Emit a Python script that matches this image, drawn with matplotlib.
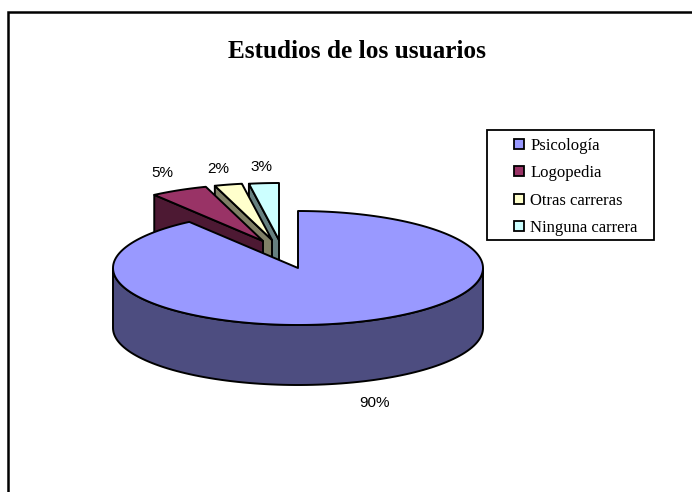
# -*- coding: utf-8 -*-
import numpy as np
import matplotlib
matplotlib.use("Agg")
import matplotlib.pyplot as plt
from matplotlib.patches import Patch, Rectangle

categorias = ["Psicología", "Logopedia", "Otras carreras", "Ninguna carrera"]
valores = [90, 5, 2.4, 2.6]
etiquetas = ["90%", "5%", "2%", "3%"]
colores = ["#9999ff", "#993366", "#ffffcc", "#ccffff"]
colores_lado = ["#4d4d80", "#4d1933", "#808066", "#668080"]

# geometria del pastel en pixeles
cx, cy = 298, 268
rx, ry = 185, 57
fondo = 60
# vertice de cada porcion separada
vertices = [(cx, cy), (263, 241), (272, 240), (279, 240)]
pos_etiquetas = [(375, 403), (162, 173), (218, 169), (261, 167)]


def punto(vertice, ang):
    return vertice[0] + rx * np.sin(ang), vertice[1] - ry * np.cos(ang)


fig = plt.figure(figsize=(6.92, 4.92), dpi=100)
ax = fig.add_axes([0, 0, 1, 1])
ax.set_xlim(0, 692)
ax.set_ylim(492, 0)
ax.axis("off")

# marco del grafico, cortado a la derecha y abajo
ax.add_patch(Rectangle((8, 12), 900, 700, fc="white", ec="black", lw=1.8))

acum = np.cumsum([0] + valores) / 100 * 2 * np.pi
lw = 1.4

# porciones separadas, de atras hacia delante
for i in [3, 2, 1]:
    v = vertices[i]
    a1, a2 = acum[i], acum[i + 1]
    x1, y1 = punto(v, a1)
    # cara interior que se ve debajo del corte
    ax.fill([v[0], x1, x1, v[0]], [v[1], y1, y1 + fondo, v[1] + fondo],
            fc=colores_lado[i], ec="black", lw=lw, joinstyle="round")
    t = np.linspace(a1, a2, 30)
    xs, ys = punto(v, t)
    ax.fill(np.r_[v[0], xs], np.r_[v[1], ys], fc=colores[i], ec="black",
            lw=lw, joinstyle="round")

# lateral de la porcion grande
t = np.linspace(np.pi / 2, 3 * np.pi / 2, 100)
xs, ys = punto((cx, cy), t)
ax.fill(np.r_[xs, xs[::-1]], np.r_[ys, ys[::-1] + fondo],
        fc=colores_lado[0], ec="black", lw=lw)

# cara superior de la porcion grande
t = np.linspace(acum[0], acum[1], 200)
xs, ys = punto((cx, cy), t)
ax.fill(np.r_[cx, xs], np.r_[cy, ys], fc=colores[0], ec="black", lw=lw,
        joinstyle="round")

for (x, y), txt in zip(pos_etiquetas, etiquetas):
    ax.text(x, y, txt, ha="center", va="center", fontsize=11,
            family="Liberation Sans", color="black")

ax.text(357, 51, "Estudios de los usuarios", ha="center", va="center",
        fontsize=18.2, fontweight="bold", family="Liberation Serif")

# leyenda: caja aparte porque el margen izquierdo es mayor que el de arriba
ax.add_patch(Rectangle((487, 130), 167, 110, fc="white", ec="black", lw=1.3,
                       zorder=3))
handles = [Patch(fc=c, ec="black", lw=1.3) for c in colores]
ley = ax.legend(handles, categorias, loc="upper left",
                bbox_to_anchor=(511 / 692, 1 - 134.5 / 492), frameon=False,
                borderaxespad=0, borderpad=0.2,
                prop={"family": "Liberation Serif", "size": 12},
                handlelength=0.55, handleheight=0.55, handletextpad=0.4,
                labelspacing=0.68)
ley.set_zorder(4)

fig.savefig("out.png", dpi=100)
